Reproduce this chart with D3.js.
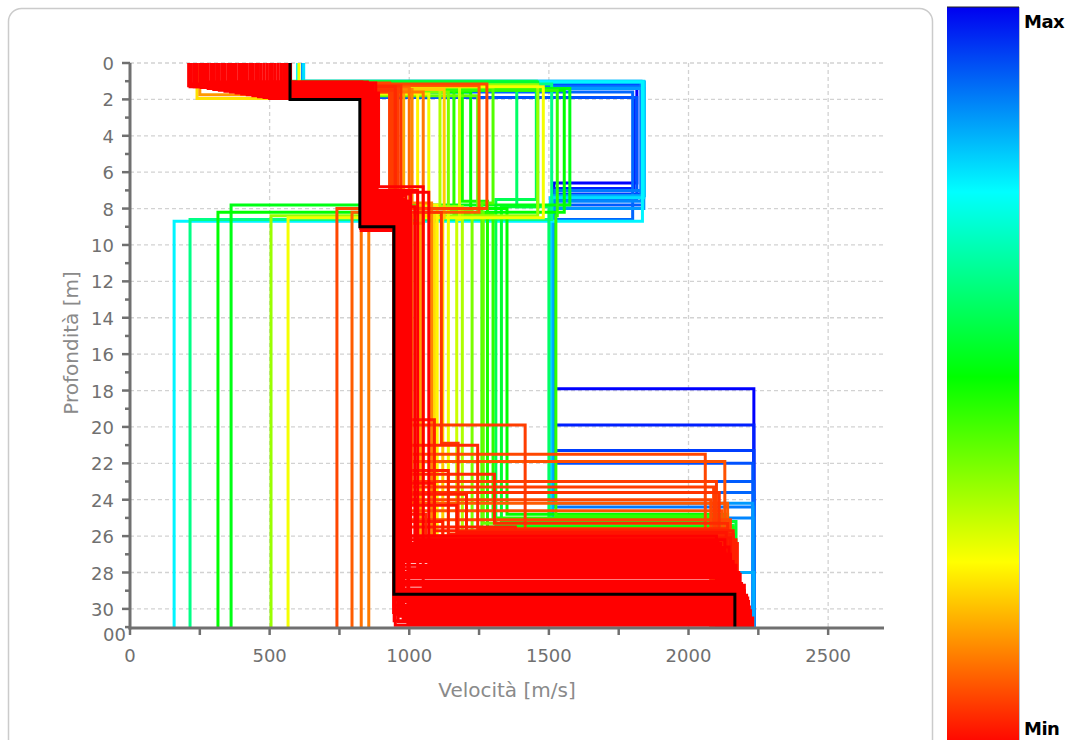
<!DOCTYPE html>
<html><head><meta charset="utf-8">
<script src="https://cdn.jsdelivr.net/npm/d3@7"></script>
<style>body{margin:0;background:#fff;overflow:hidden} svg{display:block}</style>
</head><body>
<svg id="c" width="1073" height="740"></svg>
<script>
// ---- data ----
const xTickLabels = [0, 500, 1000, 1500, 2000, 2500];
const yTickLabels = [0, 2, 4, 6, 8, 10, 12, 14, 16, 18, 20, 22, 24, 26, 28, 30];
const colorbarLabels = ["Max", "Min"];
// rows: [misfit(0=min,1=max), v1, depth1, v2, depth2, ..., vLast]
const bestProfile = [573, 2.0, 823, 9.0, 945, 29.2, 2166];
const blueProfiles = [
  [1.00, 620, 1.3, 1815, 6.6, 1518, 17.9, 2234],
  [0.97, 620, 1.9, 1805, 6.9, 1514, 19.9, 2234],
  [0.94, 620, 1.2, 1830, 7.2, 1520, 21.3, 2234],
  [0.92, 620, 1.9, 1815, 7.5, 1510, 22.0, 2230],
  [0.91, 620, 1.1, 1835, 7.8, 1518, 23.0, 2234],
  [0.90, 620, 1.6, 1800, 8.6, 1514, 23.6, 2234],
  [0.88, 620, 1.3, 1838, 7.0, 1522, 24.4, 2234],
  [0.87, 620, 1.0, 1830, 7.6, 1514, 25.0, 2234],
  [0.85, 620, 1.4, 1840, 8.0, 1508, 24.2, 2230],
  [0.83, 620, 1.05, 1842, 7.3, 1512, 28.0, 2234],
  [0.78, 622, 1.0, 1840, 7.4, 1505, 26.0, 2120]
];
const midProfiles = [
  [0.76, 600, 1.05, 1835, 8.7, 158],
  [0.63, 570, 1.15, 1510, 8.6, 215],
  [0.52, 570, 1.4, 1575, 7.8, 362],
  [0.50, 565, 1.5, 1555, 8.2, 315],
  [0.35, 570, 1.2, 1460, 8.4, 505],
  [0.26, 605, 1.3, 1480, 8.5, 566],
  [0.60, 570, 1.1, 1385, 7.9, 1500, 26.5, 2140],
  [0.58, 565, 1.0, 1455, 7.5, 1310, 25.4, 2160],
  [0.55, 570, 1.05, 1460, 7.9, 1330, 25.2, 2170],
  [0.50, 565, 1.6, 1220, 8.0, 1350, 24.8, 2140],
  [0.48, 570, 1.3, 1190, 7.6, 1280, 25.5, 2160],
  [0.46, 565, 1.2, 1160, 8.3, 1300, 25.0, 2120],
  [0.45, 570, 1.5, 1530, 8.4, 1525, 24.9, 2130],
  [0.42, 565, 1.35, 1300, 7.7, 1260, 25.6, 2145],
  [0.40, 570, 1.8, 1245, 8.2, 1265, 25.3, 2140],
  [0.38, 565, 1.6, 1140, 8.1, 1225, 25.8, 2150],
  [0.33, 570, 1.4, 1110, 7.9, 1190, 26.0, 2110],
  [0.30, 560, 1.25, 1180, 8.6, 1170, 25.7, 2125],
  [0.27, 565, 1.7, 1070, 8.0, 1140, 25.9, 2110],
  [0.24, 570, 1.5, 1030, 7.8, 1100, 26.3, 2130],
  [0.22, 240, 1.95, 870, 8.4, 1090, 26.2, 2100],
  [0.20, 565, 1.45, 1125, 8.5, 1120, 26.1, 2115],
  [0.16, 560, 1.35, 980, 7.9, 1040, 26.6, 2080],
  [0.15, 250, 1.75, 850, 8.3, 1050, 26.5, 2090],
  [0.13, 565, 1.45, 1010, 7.7, 1080, 26.4, 2120],
  [0.12, 560, 1.6, 1050, 8.8, 855],
  [0.11, 565, 1.3, 1000, 8.8, 828],
  [0.09, 560, 1.25, 1250, 8.2, 795],
  [0.07, 565, 1.15, 1278, 8.0, 741]
];
const orangeProfiles = [
  [0.06, 565, 1.35, 930, 8.4, 955, 19.9, 1415, 26.4, 2150],
  [0.07, 570, 1.2, 950, 8.5, 970, 21.5, 2060, 26.5, 2140],
  [0.08, 565, 1.3, 940, 8.6, 990, 21.9, 2130],
  [0.06, 570, 1.4, 960, 8.7, 980, 23.0, 2100],
  [0.05, 565, 1.5, 950, 8.8, 975, 23.6, 2110],
  [0.07, 560, 1.1, 930, 8.3, 1000, 24.0, 2080],
  [0.06, 570, 1.6, 940, 8.9, 960, 23.3, 2090],
  [0.08, 565, 1.45, 945, 8.5, 985, 24.6, 2120],
  [0.07, 560, 1.3, 955, 8.6, 965, 25.1, 2150],
  [0.09, 570, 1.25, 935, 8.4, 1010, 24.2, 2140],
  [0.05, 565, 1.25, 970, 8.2, 1115, 20.9, 1175, 26.0, 2150],
  [0.04, 565, 1.3, 950, 8.4, 990, 22.6, 1305, 25.3, 2140],
  [0.03, 560, 1.2, 838, 8.6, 952, 22.4, 1140, 25.9, 2160],
  [0.02, 565, 1.4, 846, 8.3, 960, 23.1, 1090, 26.1, 2150],
  [0.03, 555, 1.3, 852, 8.0, 965, 23.7, 1205, 26.2, 2170],
  [0.02, 560, 1.5, 836, 8.8, 948, 24.3, 1170, 25.8, 2135],
  [0.04, 565, 1.25, 842, 8.4, 958, 24.8, 1060, 26.0, 2160],
  [0.03, 550, 1.35, 860, 7.8, 975, 25.2, 1120, 26.3, 2145],
  [0.04, 560, 1.45, 834, 9.0, 950, 21.0, 1245, 25.6, 2140],
  [0.03, 555, 1.15, 848, 8.2, 962, 25.5, 1380, 26.4, 2175],
  [0.04, 565, 1.6, 840, 8.6, 955, 22.0, 1000, 26.0, 2150],
  [0.03, 560, 1.35, 844, 8.5, 952, 19.6, 1090, 25.7, 2160],
  [0.02, 555, 1.55, 850, 8.1, 968, 24.0, 1030, 26.1, 2150]
];
const redProfiles = [
  [0, 210, 1.25, 830, 8.9, 948, 28.6, 2190],
  [0, 220, 1.15, 840, 8.2, 968, 27.4, 2160],
  [0, 230, 1.30, 826, 9.1, 944, 30.2, 2215],
  [0, 240, 1.20, 850, 7.9, 988, 26.2, 2130],
  [0, 250, 1.10, 835, 8.6, 958, 29.5, 2205],
  [0, 260, 1.35, 860, 7.5, 985, 26.8, 2120],
  [0, 270, 1.05, 830, 9.0, 953, 28.0, 2180],
  [0, 280, 1.40, 845, 8.4, 978, 30.6, 2220],
  [0, 290, 1.20, 870, 7.2, 1005, 27.0, 2140],
  [0, 300, 1.45, 826, 8.8, 946, 29.8, 2210],
  [0, 310, 1.15, 855, 8.0, 998, 26.5, 2110],
  [0, 320, 1.50, 840, 9.2, 963, 28.3, 2175],
  [0, 330, 1.10, 880, 7.0, 1030, 27.7, 2150],
  [0, 340, 1.55, 830, 8.5, 950, 30.9, 2225],
  [0, 350, 1.25, 865, 7.7, 990, 26.0, 2100],
  [0, 360, 1.60, 835, 8.9, 973, 29.0, 2200],
  [0, 370, 1.05, 850, 8.1, 983, 27.2, 2145],
  [0, 380, 1.65, 890, 6.8, 1050, 28.8, 2190],
  [0, 390, 1.30, 828, 9.0, 947, 30.0, 2215],
  [0, 400, 1.70, 860, 7.4, 975, 26.7, 2125],
  [0, 410, 1.20, 840, 8.7, 956, 29.3, 2205],
  [0, 420, 1.75, 875, 7.6, 1000, 27.9, 2165],
  [0, 430, 1.35, 832, 8.3, 966, 30.4, 2220],
  [0, 440, 1.80, 855, 7.8, 993, 26.4, 2115],
  [0, 450, 1.15, 845, 9.1, 948, 28.5, 2180],
  [0, 460, 1.85, 885, 7.1, 1070, 27.5, 2155],
  [0, 470, 1.40, 830, 8.6, 960, 30.7, 2225],
  [0, 480, 1.90, 865, 8.0, 965, 26.9, 2130],
  [0, 490, 1.25, 838, 8.8, 950, 29.1, 2195],
  [0, 500, 1.95, 850, 7.3, 988, 27.3, 2150],
  [0, 510, 1.45, 828, 9.2, 948, 30.3, 2212],
  [0, 520, 1.60, 870, 7.9, 1020, 26.3, 2105],
  [0, 530, 1.75, 842, 8.5, 970, 28.2, 2175],
  [0, 540, 1.85, 858, 8.2, 998, 29.7, 2210],
  [0, 550, 1.50, 835, 8.9, 953, 27.1, 2140],
  [0, 560, 1.95, 880, 7.6, 995, 30.8, 2228],
  [0, 570, 1.70, 832, 8.7, 958, 28.9, 2190],
  [0, 575, 1.55, 848, 8.4, 978, 27.8, 2165],
  [0, 215, 1.30, 836, 8.6, 952, 26.6, 2145],
  [0, 235, 1.20, 844, 8.0, 962, 27.6, 2170],
  [0, 255, 1.35, 852, 8.7, 955, 28.7, 2200],
  [0, 275, 1.25, 838, 8.3, 970, 29.9, 2218],
  [0, 295, 1.30, 862, 7.8, 980, 30.5, 2230],
  [0, 315, 1.40, 846, 8.9, 951, 29.4, 2212],
  [0, 335, 1.20, 840, 8.4, 957, 29.25, 2208],
  [0, 355, 1.35, 850, 8.6, 962, 29.6, 2215],
  [0, 375, 1.45, 838, 8.8, 949, 30.1, 2222],
  [0, 395, 1.25, 856, 8.2, 972, 28.1, 2185],
  [0, 415, 1.50, 844, 8.5, 959, 27.0, 2150],
  [0, 435, 1.30, 834, 9.0, 946, 30.65, 2226]
];

// ---- layout ----
const svg = d3.select("#c");
const mL = 130, mR = 884, mT = 63, mB = 628;
const x = d3.scaleLinear().domain([0, 2700]).range([mL, mR]);
const y = d3.scaleLinear().domain([0, 31.05]).range([mT, mB]);
const color = d3.scaleLinear().domain([0, 0.25, 0.5, 0.75, 1])
  .range(["#ff0000", "#ffff00", "#00ff00", "#00ffff", "#0000ff"]);
const FONT = "DejaVu Sans, Verdana, sans-serif";
const axisGray = "#707070";

// panel
svg.append("rect").attr("x", 8.5).attr("y", 8.5).attr("width", 924).attr("height", 745)
  .attr("rx", 13).attr("fill", "#fff").attr("stroke", "#cbcbcb").attr("stroke-width", 1.5);

const defs = svg.append("defs");
defs.append("clipPath").attr("id", "plotclip").append("rect")
  .attr("x", mL).attr("y", mT).attr("width", mR - mL).attr("height", mB - mT);

// grid
const grid = svg.append("g").attr("stroke", "#d2d2d2").attr("stroke-width", 1.3).attr("stroke-dasharray", "4,3");
grid.selectAll(".gy").data(yTickLabels).join("line")
  .attr("x1", mL).attr("x2", mR).attr("y1", d => y(d)).attr("y2", d => y(d));
grid.selectAll(".gx").data(xTickLabels.filter(d => d > 0)).join("line")
  .attr("x1", d => x(d)).attr("x2", d => x(d)).attr("y1", mT).attr("y2", mB);

// profiles
function profilePoints(row, isBest) {
  const vals = isBest ? row : row.slice(1);
  const pts = [];
  let d0 = 0;
  for (let i = 0; i < vals.length; i += 2) {
    const v = vals[i];
    const d1 = (i + 1 < vals.length) ? vals[i + 1] : y.domain()[1] + 1;
    pts.push([v, d0], [v, d1]);
    d0 = d1;
  }
  return pts;
}
const line = d3.line().x(p => x(p[0])).y(p => y(p[1]));
const allProfiles = [].concat(blueProfiles, midProfiles, orangeProfiles, redProfiles)
  .slice().sort((a, b) => b[0] - a[0]);
const pg = svg.append("g").attr("clip-path", "url(#plotclip)");
pg.selectAll("path.p").data(allProfiles).join("path")
  .attr("d", d => line(profilePoints(d, false)))
  .attr("fill", "none").attr("stroke", d => color(d[0]))
  .attr("stroke-width", 3).attr("stroke-linejoin", "miter");
pg.append("path").attr("d", line(profilePoints(bestProfile, true)))
  .attr("fill", "none").attr("stroke", "#000").attr("stroke-width", 3);

// axes
const ax = svg.append("g");
const yMinor = d3.range(0, 32, 1).filter(d => d <= 31);
ax.selectAll(".ym").data(yMinor).join("line")
  .attr("x1", d => mL - (d % 2 === 0 ? 8 : 5)).attr("x2", mL)
  .attr("y1", d => y(d)).attr("y2", d => y(d))
  .attr("stroke", axisGray).attr("stroke-width", 2.5);
ax.selectAll(".xm").data(d3.range(0, 2701, 250)).join("line")
  .attr("x1", d => x(d)).attr("x2", d => x(d))
  .attr("y1", mB).attr("y2", mB + 7)
  .attr("stroke", axisGray).attr("stroke-width", 2.5);
ax.append("line").attr("x1", mL).attr("x2", mL).attr("y1", mT).attr("y2", mB + 1.5)
  .attr("stroke", axisGray).attr("stroke-width", 3);
ax.append("line").attr("x1", mL - 1.5).attr("x2", mR).attr("y1", mB).attr("y2", mB)
  .attr("stroke", axisGray).attr("stroke-width", 3);

ax.selectAll(".yl").data(yTickLabels).join("text")
  .attr("x", 114).attr("y", d => y(d) + 7)
  .attr("text-anchor", "end").attr("font-family", FONT).attr("font-size", 18)
  .attr("fill", axisGray).text(d => d);
defs.append("clipPath").attr("id", "lblclip").append("rect")
  .attr("x", 90).attr("y", 627).attr("width", 40).attr("height", 20);
ax.append("text").attr("x", 126).attr("y", 641).attr("text-anchor", "end")
  .attr("font-family", FONT).attr("font-size", 18).attr("fill", axisGray)
  .attr("clip-path", "url(#lblclip)").text("00");
ax.selectAll(".xl").data(xTickLabels).join("text")
  .attr("x", d => x(d)).attr("y", 662)
  .attr("text-anchor", "middle").attr("font-family", FONT).attr("font-size", 18)
  .attr("fill", axisGray).text(d => d);

svg.append("text").attr("x", 507).attr("y", 697).attr("text-anchor", "middle")
  .attr("font-family", FONT).attr("font-size", 20).attr("fill", "#8a8a8a").text("Velocità [m/s]");
svg.append("text").attr("transform", "translate(78,343) rotate(-90)").attr("text-anchor", "middle")
  .attr("font-family", FONT).attr("font-size", 20).attr("fill", "#8a8a8a").text("Profondità [m]");

// colorbar
const grad = defs.append("linearGradient").attr("id", "cbgrad")
  .attr("x1", 0).attr("y1", 0).attr("x2", 0).attr("y2", 1);
[[0, "#0000f0"], [0.25, "#00ffff"], [0.5, "#00ff00"], [0.75, "#ffff00"], [1, "#ff0000"]]
  .forEach(s => grad.append("stop").attr("offset", s[0]).attr("stop-color", s[1]));
svg.append("rect").attr("x", 947).attr("y", 7).attr("width", 72).attr("height", 740)
  .attr("fill", "url(#cbgrad)");
svg.append("line").attr("x1", 947).attr("x2", 1019).attr("y1", 7).attr("y2", 7)
  .attr("stroke", "#222").attr("stroke-width", 1);
svg.append("line").attr("x1", 1019.5).attr("x2", 1019.5).attr("y1", 7).attr("y2", 740)
  .attr("stroke", "#b8c0d0").attr("stroke-width", 1);
svg.append("text").attr("x", 1024).attr("y", 28).attr("font-family", FONT).attr("font-weight", "bold")
  .attr("font-size", 18).attr("letter-spacing", -0.5).attr("fill", "#000").text(colorbarLabels[0]);
svg.append("text").attr("x", 1024).attr("y", 735).attr("font-family", FONT).attr("font-weight", "bold")
  .attr("font-size", 18).attr("letter-spacing", -0.5).attr("fill", "#000").text(colorbarLabels[1]);
</script>
</body></html>
